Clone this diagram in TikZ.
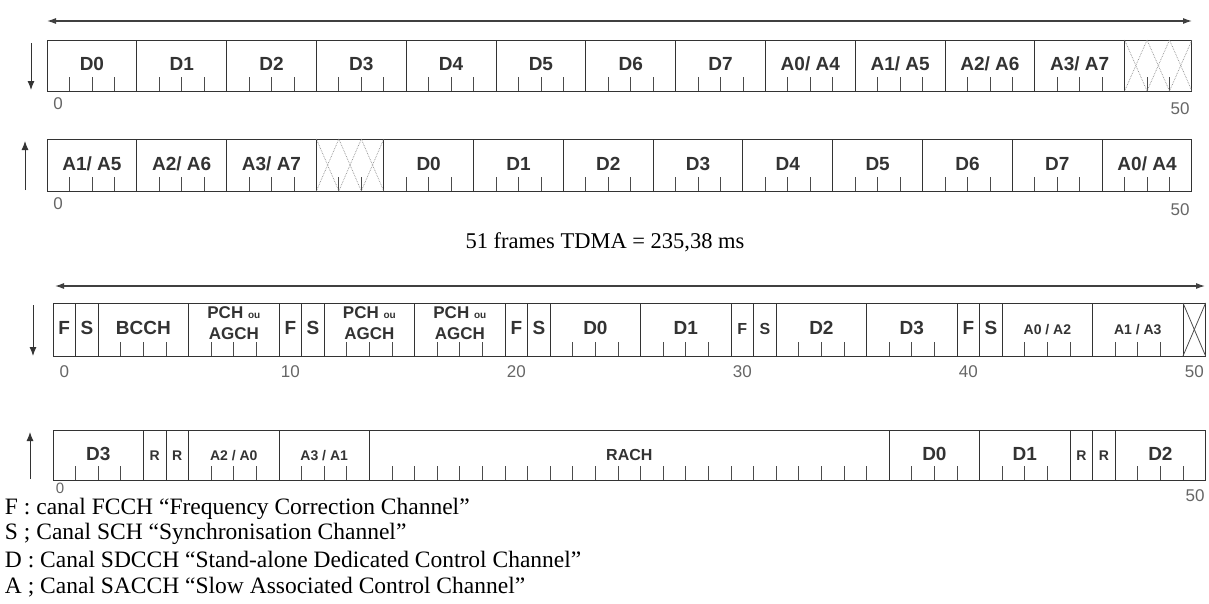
\documentclass[tikz,border=0pt]{standalone}
\usepackage{fontspec}
\setmainfont{Liberation Serif}
\setsansfont{Liberation Sans}
\usetikzlibrary{arrows.meta, positioning, calc}

% one multiframe row: name, x0, y0, slot width, height, list of nslots/label
\newcommand{\framerow}[6]{%
  \foreach \n/\lab [count=\i, evaluate=\n as \e using \s+\n, remember=\e as \s (initially 0)] in {#6} {
    \node[slotbox, minimum width={\n*#4}, minimum height=#5, anchor=north west] (#1-\i) at ({#2+\s*#4},#3) {};
    \node[slotlabel] (#1-\i-t) at ([yshift={-0.6*#5}]#1-\i.north) {\lab};
    \ifnum\n>1
      \foreach \k in {2,...,\n} { \draw[tick] ([xshift={(\k-1)*#4}]#1-\i.south west) -- ++(0,-14); }
    \fi
  }
}
% two-line slot label
\newcommand{\twoline}[2]{\raisebox{-5pt}{\shortstack{#1\\[6pt]#2}}}

\begin{document}
\begin{tikzpicture}[x=1pt, y=-1pt,
  every node/.style={inner sep=0pt, outer sep=0pt},
  slotbox/.style={draw=black!80, line width=1pt},
  slotlabel/.style={anchor=base, font=\sffamily\bfseries\fontsize{19}{21}\selectfont, text=black!80},
  tick/.style={draw=black!70, line width=0.8pt},
  num/.style={font=\sffamily\fontsize{17}{19}\selectfont, text=black!60},
  idle/.style={draw=black!45, line width=0.7pt, densely dotted},
  dirarr/.style={-{Latex[length=9pt, width=7pt]}, line width=1pt, draw=black!80},
  spanarr/.style={{Latex[length=9pt, width=6pt]}-{Latex[length=9pt, width=6pt]}, line width=1.1pt, draw=black!75},
  legend/.style={anchor=west, font=\fontsize{23.5}{26}\selectfont}
]
  \useasboundingbox (0,0) rectangle (1209,603);

  % downlink 51 frames, SDCCH/8
  \framerow{dla}{47}{40}{22.45}{51}{4/D0, 4/D1, 4/D2, 4/D3, 4/D4, 4/D5, 4/D6, 4/D7,
    4/{A0/ A4}, 4/{A1/ A5}, 4/{A2/ A6}, 4/{A3/ A7}, 3/{}}
  % uplink 51 frames, SDCCH/8
  \framerow{ula}{47}{139}{22.45}{52}{4/{A1/ A5}, 4/{A2/ A6}, 4/{A3/ A7}, 3/{}, 4/D0, 4/D1,
    4/D2, 4/D3, 4/D4, 4/D5, 4/D6, 4/D7, 4/{A0/ A4}}
  % downlink 51 frames, combined
  \framerow{dlb}{53}{303}{22.6}{53}{1/F, 1/S, 4/BCCH,
    4/{\fontsize{17}{18}\selectfont\twoline{PCH {\fontsize{10}{11}\selectfont ou}}{AGCH}}, 1/F, 1/S,
    4/{\fontsize{17}{18}\selectfont\twoline{PCH {\fontsize{10}{11}\selectfont ou}}{AGCH}},
    4/{\fontsize{17}{18}\selectfont\twoline{PCH {\fontsize{10}{11}\selectfont ou}}{AGCH}},
    1/F, 1/S, 4/D0, 4/D1, 1/{\fontsize{16}{18}\selectfont F}, 1/{\fontsize{16}{18}\selectfont S}, 4/D2, 4/D3, 1/F, 1/S,
    4/{\fontsize{14}{16}\selectfont A0 / A2}, 4/{\fontsize{14}{16}\selectfont A1 / A3}, 1/{}}
  % uplink 51 frames, combined
  \framerow{ulb}{53}{430}{22.6}{50}{4/D3, 1/{\fontsize{14}{16}\selectfont R}, 1/{\fontsize{14}{16}\selectfont R},
    4/{\fontsize{14}{16}\selectfont A2 / A0}, 4/{\fontsize{14}{16}\selectfont A3 / A1},
    23/{\fontsize{16}{18}\selectfont RACH}, 4/D0, 4/D1, 1/{\fontsize{14}{16}\selectfont R},
    1/{\fontsize{14}{16}\selectfont R}, 4/D2}

  % idle frames
  \foreach \k in {0,1,2} {
    \draw[idle] ([xshift={\k*22.45}]dla-13.north west) -- ([xshift={(\k+1)*22.45}]dla-13.south west);
    \draw[idle] ([xshift={\k*22.45}]dla-13.south west) -- ([xshift={(\k+1)*22.45}]dla-13.north west);
    \draw[idle] ([xshift={\k*22.45}]ula-4.north west) -- ([xshift={(\k+1)*22.45}]ula-4.south west);
    \draw[idle] ([xshift={\k*22.45}]ula-4.south west) -- ([xshift={(\k+1)*22.45}]ula-4.north west);
  }
  \draw[tick] (dlb-21.north west) -- (dlb-21.south east);
  \draw[tick] (dlb-21.south west) -- (dlb-21.north east);

  % span arrows and directions
  \coordinate (spanA) at (47,21);
  \coordinate (spanB) at (1192,21);
  \coordinate (spanC) at (55,286);
  \coordinate (spanD) at (1205,286);
  \draw[spanarr] (spanA) -- (spanB);
  \draw[spanarr] (spanC) -- (spanD);
  \coordinate (dirA) at (31,43);
  \coordinate (dirB) at (31,90);
  \coordinate (dirC) at (25,190);
  \coordinate (dirD) at (25,141);
  \coordinate (dirE) at (33,305);
  \coordinate (dirF) at (33,356);
  \coordinate (dirG) at (30,479);
  \coordinate (dirH) at (30,432);
  \draw[dirarr] (dirA) -- (dirB);
  \draw[dirarr] (dirC) -- (dirD);
  \draw[dirarr] (dirE) -- (dirF);
  \draw[dirarr] (dirG) -- (dirH);

  % frame numbers
  \node[num] (n1a) at (58,104) {0};
  \node[num] (n1b) at (1180,109) {50};
  \node[num] (n2a) at (58,204) {0};
  \node[num] (n2b) at (1180,210) {50};
  \foreach \k in {0,10,...,50}
    \node[num] (n3-\k) at ({53+(\k+0.5)*22.6},372) {\k};
  \node[num, font=\sffamily\fontsize{15}{17}\selectfont] (n4a) at (60,488) {0};
  \node[num] (n4b) at (1195,496) {50};

  \node[font=\fontsize{22.5}{25}\selectfont] (title) at (605,242) {51 frames TDMA = 235,38 ms};

  \node[legend] (lgF) at (5,509) {F : canal FCCH “Frequency Correction Channel”};
  \node[legend] (lgS) at (5,534) {S ; Canal SCH “Synchronisation Channel”};
  \node[legend] (lgD) at (5,560) {D : Canal SDCCH “Stand-alone Dedicated Control Channel”};
  \node[legend] (lgA) at (5,587) {A ; Canal SACCH “Slow Associated Control Channel”};
\end{tikzpicture}
\end{document}
